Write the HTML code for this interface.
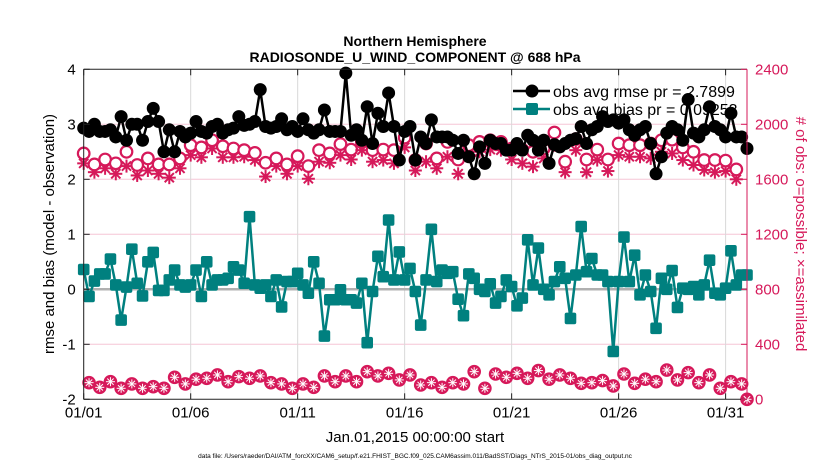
<!DOCTYPE html>
<html><head><meta charset="utf-8"><style>
body{margin:0;background:#fff;}
svg{display:block;font-family:"Liberation Sans",sans-serif;}
</style></head><body>
<svg id="chart" width="830" height="470" viewBox="0 0 830 470" xmlns="http://www.w3.org/2000/svg">
<rect width="830" height="470" fill="#fff"/>
<text x="415" y="46" text-anchor="middle" font-size="14" font-weight="bold">Northern Hemisphere</text>
<text x="415" y="62" text-anchor="middle" font-size="14" font-weight="bold">RADIOSONDE_U_WIND_COMPONENT @ 688 hPa</text>
<g id="grid"></g>
<g id="legend">
 <line x1="513" y1="91" x2="550" y2="91" stroke="#000" stroke-width="2.5"/>
 <circle cx="532" cy="91" r="6.5" fill="#000"/>
 <text x="553" y="97" font-size="16">obs avg rmse pr = 2.7899</text>
 <line x1="513" y1="109" x2="550" y2="109" stroke="#00807f" stroke-width="2.5"/>
 <rect x="526" y="103" width="12" height="12" rx="2" fill="#00807f"/>
 <text x="553" y="115" font-size="16">obs avg bias pr = 0.09253</text>
</g>
<g id="marks"></g>
<g id="axes"></g>
<text x="415" y="442" text-anchor="middle" font-size="15">Jan.01,2015 00:00:00 start</text>
<text transform="translate(54,234) rotate(-90)" text-anchor="middle" font-size="15">rmse and bias (model - observation)</text>
<text transform="translate(796,234) rotate(90)" text-anchor="middle" font-size="15" fill="#d6195a"># of obs: o=possible; ×=assimilated</text>
<text x="415" y="458" text-anchor="middle" font-size="6.5">data file: /Users/raeder/DAI/ATM_forcXX/CAM6_setup/f.e21.FHIST_BGC.f09_025.CAM6assim.011/BadSST/Diags_NTrS_2015-01/obs_diag_output.nc</text>
</svg>
<script>
const rmse=[2.93,2.87,3.0,2.87,2.87,2.9,2.77,3.14,2.71,3.0,3.0,2.71,3.05,3.29,3.05,2.5,2.9,2.5,2.87,2.77,2.84,3.05,2.87,2.84,2.96,3.0,2.84,2.9,2.93,3.14,2.98,3.0,3.05,3.63,2.96,2.93,2.96,3.1,2.9,2.96,2.87,3.1,2.9,2.84,2.9,3.26,2.87,2.87,2.87,3.93,2.8,2.9,2.71,3.32,2.65,3.2,2.96,3.57,2.96,2.35,2.87,2.96,2.35,2.77,2.65,3.08,2.77,2.77,2.77,2.71,2.47,2.71,2.41,2.1,2.59,2.29,2.71,2.65,2.65,2.53,2.53,2.65,2.53,2.8,2.71,2.53,2.71,2.29,2.63,2.59,2.65,2.71,2.74,2.96,2.65,2.9,2.96,3.14,3.05,3.08,3.02,3.08,2.9,2.8,2.9,2.96,2.65,2.1,2.41,2.84,2.96,2.9,2.71,3.45,2.84,2.77,2.9,3.32,2.96,2.9,2.77,3.2,2.77,2.77,2.56];
const bias=[0.36,-0.13,0.15,0.28,0.28,0.55,0.08,-0.56,0.04,0.73,0.11,-0.12,0.5,0.67,-0.02,-0.02,0.17,0.35,0.08,0.04,0.08,0.35,-0.13,0.5,0.08,0.17,0.17,0.2,0.41,0.35,0.11,1.32,0.08,0.02,0.08,-0.13,0.17,-0.32,0.14,0.14,0.29,0.08,-0.07,0.5,0.11,-0.85,-0.19,-0.19,-0.01,-0.19,-0.19,-0.25,0.11,-0.97,-0.04,0.6,0.23,1.26,0.17,0.68,0.17,0.38,-0.04,-0.65,0.17,1.09,0.14,0.35,0.29,0.32,-0.18,-0.48,0.28,0.2,0,-0.04,0.1,-0.25,-0.13,0.17,0.05,-0.3,-0.16,0.9,0.08,0.75,0,-0.1,0.14,0.41,0.2,-0.53,0.26,1.14,0.32,0.56,0.26,0.26,0.14,-1.13,0.14,0.95,0.14,0.62,-0.1,0.26,-0.04,-0.71,0.2,0,0.34,-0.33,0.02,0,0.05,-0.1,0.08,0.53,-0.07,-0.1,0.02,0.7,0.08,0.26,0.26];
const possibleMain=[1788,1708,1744,1716,1800,1704,1752,1708,1708,1752,1848,1832,1884,1840,1824,1812,1792,1720,1752,1708,1768,1696,1812,1788,1856,1816,1872,1812,1816,1812,1904,1740,1860,1752,1872,1744,1848,1872,1884,1872,1824,1816,1800,1824,1940,1728,1892,1744,1816,1744,1860,1848,1848,1860,1884,1888,1832,1800,1740,1740,1736,1672];
const assimMain=[1716,1652,1680,1640,1696,1628,1664,1640,1612,1680,1776,1760,1824,1760,1760,1764,1740,1620,1696,1640,1696,1604,1728,1720,1776,1744,1812,1728,1740,1716,1832,1664,1728,1680,1764,1640,1776,1800,1816,1812,1744,1716,1692,1752,1848,1652,1812,1652,1740,1660,1776,1764,1764,1752,1800,1788,1740,1704,1668,1652,1660,1600];
const countOff=[121,87,128,80,112,80,92,80,160,112,146,153,177,128,165,153,170,121,112,80,112,87,170,128,170,128,201,170,189,141,177,104,121,87,121,112,201,80,184,160,189,153,209,146,177,153,116,121,136,97,184,116,146,128,213,141,194,121,177,80,128,112,0];
const xTicks=["01/01","01/06","01/11","01/16","01/21","01/26","01/31"];
const yLeftTicks=[-2,-1,0,1,2,3,4];
const yRightTicks=[0,400,800,1200,1600,2000,2400];

const NS="http://www.w3.org/2000/svg";
const X0=83.7,X1=747,Y0=399.3,Y1=69.3;
const xs=d=>X0+(X1-X0)*d/31;
const yl=v=>Y0+(Y1-Y0)*(v+2)/6;
const yr=c=>Y0+(Y1-Y0)*c/2400;
const PINK="#d6195a",TEAL="#00807f";
function mk(tag,at,parent){const e=document.createElementNS(NS,tag);for(const k in at)e.setAttribute(k,at[k]);parent.appendChild(e);return e;}
const grid=document.getElementById('grid'),marks=document.getElementById('marks'),axes=document.getElementById('axes');

yRightTicks.forEach((c,i)=>{if(i===0||i===6)return;
 const l=mk('line',{x1:X0,x2:X1,y1:yr(c),y2:yr(c),stroke:'#f5c6d6','stroke-width':1},grid);
 
 });
xTicks.forEach((t,i)=>{const x=xs(i*5);
 const l=mk('line',{x1:x,x2:x,y1:Y1,y2:Y0,stroke:'#d9d9d9','stroke-width':1},grid);
 
 });
const z=mk('line',{x1:X0,x2:X1,y1:yl(0),y2:yl(0),stroke:'#b0b0b0','stroke-width':2.5},grid);



function star(x,y,r,parent){const g=mk('g',{stroke:PINK,'stroke-width':2},parent);
 for(let a=0;a<4;a++){const t=a*Math.PI/4;mk('line',{x1:x-r*Math.cos(t),y1:y-r*Math.sin(t),x2:x+r*Math.cos(t),y2:y+r*Math.sin(t)},g);}return g;}

possibleMain.forEach((c,k)=>{const x=xs(k*0.5);
 const s=star(x,yr(assimMain[k]),6.5,marks);
 
 
 const o=mk('circle',{cx:x,cy:yr(c),r:5.8,fill:'#fff',stroke:PINK,'stroke-width':2.2},marks);
 
 });
countOff.forEach((c,k)=>{const d=k<62?0.25+k*0.5:31;const x=xs(d),y=yr(c);
 const o=mk('circle',{cx:x,cy:y,r:6.3,fill:PINK,stroke:PINK,'stroke-width':1},marks);
 
 
 const s=star(x,y,4.5,marks);s.setAttribute('stroke','#fff');s.setAttribute('stroke-width','1');
 
 });

const rl=mk('polyline',{points:rmse.map((v,i)=>xs(i*0.25)+','+yl(v)).join(' '),fill:'none',stroke:'#000','stroke-width':2.5},marks);


rmse.forEach((v,i)=>{const c=mk('circle',{cx:xs(i*0.25),cy:yl(v),r:6.5,fill:'#000'},marks);
 
 });
const bl=mk('polyline',{points:bias.map((v,i)=>xs(i*0.25)+','+yl(v)).join(' '),fill:'none',stroke:TEAL,'stroke-width':2.5},marks);


bias.forEach((v,i)=>{const r=mk('rect',{x:xs(i*0.25)-5.8,y:yl(v)-5.8,width:11.6,height:11.6,rx:2,fill:TEAL},marks);
 
 });

mk('line',{x1:X0,x2:X1,y1:Y1,y2:Y1,stroke:'#222','stroke-width':1},axes);
mk('line',{x1:X0,x2:X1,y1:Y0,y2:Y0,stroke:'#222','stroke-width':1},axes);
mk('line',{x1:X0,x2:X0,y1:Y1,y2:Y0,stroke:'#222','stroke-width':1},axes);
mk('line',{x1:X1,x2:X1,y1:Y1,y2:Y0,stroke:PINK,'stroke-width':1},axes);
xTicks.forEach((t,i)=>{const x=xs(i*5);
 mk('line',{x1:x,x2:x,y1:Y0,y2:Y0-6,stroke:'#222'},axes);
 mk('line',{x1:x,x2:x,y1:Y1,y2:Y1+6,stroke:'#222'},axes);
 const tx=mk('text',{x:x,y:Y0+18,'text-anchor':'middle','font-size':15},axes);tx.textContent=t;
 
 });
yLeftTicks.forEach(v=>{const y=yl(v);
 mk('line',{x1:X0,x2:X0+6,y1:y,y2:y,stroke:'#222'},axes);
 const tx=mk('text',{x:X0-8,y:y+5,'text-anchor':'end','font-size':15},axes);tx.textContent=v;
 
 });
yRightTicks.forEach(c=>{const y=yr(c);
 mk('line',{x1:X1,x2:X1-6,y1:y,y2:y,stroke:PINK},axes);
 const tx=mk('text',{x:X1+8,y:y+5,'font-size':15,fill:PINK},axes);tx.textContent=c;
 
 });
</script>
</body></html>
